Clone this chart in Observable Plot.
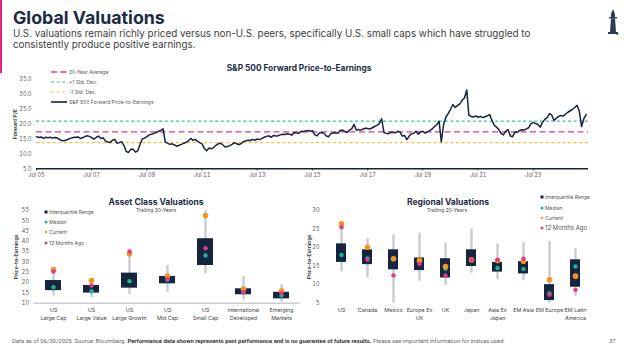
<!DOCTYPE html>
<html><head><meta charset="utf-8">
<script src="https://cdn.jsdelivr.net/npm/d3@7"></script>
<script src="https://cdn.jsdelivr.net/npm/@observablehq/plot@0.6"></script>
<style>
body{margin:0;width:624px;height:350px;position:relative;background:#fff;font-family:Inter,sans-serif;overflow:hidden}
.abs{position:absolute;white-space:nowrap}
#bar{position:absolute;left:0;top:0;width:2px;height:73px;background:#e2237f}
#title{left:13px;top:8.5px;font-size:17.8px;line-height:17.8px;font-weight:700;color:#1c2b45}
#sub{left:13px;top:27.5px;font-size:9.85px;line-height:11px;color:#3d3d3d}
.ctitle{font-weight:700;color:#1c2b45;font-size:8.3px;line-height:8.3px;transform:translateX(-50%)}
.csub{font-size:5px;line-height:5px;color:#444;transform:translateX(-50%)}
.leg{font-size:5px;line-height:6px;color:#555;display:flex;align-items:center}
.leg svg{margin-right:1px}
#foot{left:12px;top:338px;font-family:Roboto,sans-serif;font-size:5.9px;color:#666}
#foot b{color:#333}
#page{left:609px;top:338px;font-family:Roboto,sans-serif;font-size:5.9px;color:#666}
</style></head><body>
<div id="bar"></div>
<div id="title" class="abs">Global Valuations</div>
<div id="sub" class="abs">U.S. valuations remain richly priced versus non-U.S. peers, specifically U.S. small caps which have struggled to<br>consistently produce positive earnings.</div>
<svg class="abs" style="left:606px;top:8px" width="14" height="30" viewBox="0 0 14 30">
 <path d="M7 1 L9 6 L5 6 Z" fill="#2b3a55"/><rect x="5" y="6" width="4" height="3" fill="#2b3a55"/>
 <rect x="3" y="9" width="8" height="1.5" fill="#2b3a55"/><path d="M5 10.5 L9 10.5 L10 24 L4 24 Z" fill="#2b3a55"/>
 <rect x="2" y="24" width="10" height="2" fill="#2b3a55"/><rect x="10" y="26" width="3" height="1" fill="#8a94a6"/>
</svg>

<div id="c1" class="abs" style="left:0;top:60px"></div>
<div id="c2" class="abs" style="left:0;top:190px"></div>
<div id="c3" class="abs" style="left:300px;top:190px"></div>

<div class="abs ctitle" style="left:299px;top:64px">S&amp;P 500 Forward Price-to-Earnings</div>
<div class="abs ctitle" style="left:156px;top:198px;font-size:8.5px">Asset Class Valuations</div>
<div class="abs csub" style="left:156px;top:208px">Trailing 20-Years</div>
<div class="abs ctitle" style="left:448px;top:198px;font-size:8.5px">Regional Valuations</div>
<div class="abs csub" style="left:447px;top:208px">Trailing 20-Years</div>

<div id="leg1"></div>
<div id="leg2"></div>
<div id="leg3"></div>

<div id="foot" class="abs">Data as of 06/30/2025. Source: Bloomberg. <b>Performance data shown represents past performance and is no guarantee of future results.</b> Please see important information for indices used.</div>
<div id="page" class="abs">37</div>

<script>
// ---------- S&P 500 forward P/E (monthly, Jul 2005 – Jun 2025) ----------
const peStart = "2005-07";
const peValues = [
 15.8,15.5,15.7,15.2,15.6,15.4,
 15.6,15.3,15.5,15.4,14.8,14.5,14.4,14.7,15.0,15.3,15.5,15.6,
 15.7,15.2,15.4,15.8,16.1,15.9,15.5,15.0,15.6,16.0,15.2,15.4,
 14.3,14.0,13.8,14.6,14.9,13.6,13.8,14.1,12.8,10.8,10.5,11.6,
 11.6,10.6,11.0,13.2,15.0,15.3,15.8,16.4,16.6,16.9,17.2,17.6,
 17.9,18.4,14.0,13.6,13.2,13.4,13.0,12.6,12.9,13.2,13.6,13.9,
 14.4,15.2,14.6,14.9,14.3,13.8,13.4,11.8,11.1,12.0,11.7,12.2,
 12.9,13.4,13.6,13.0,12.3,12.5,12.8,13.2,13.8,13.4,13.1,13.5,
 14.2,14.4,14.6,14.5,14.9,14.6,15.0,14.8,15.2,15.6,15.9,16.1,
 15.6,16.2,16.0,16.1,16.4,16.6,16.5,16.8,16.6,16.3,17.2,17.0,
 16.9,17.6,17.5,17.7,17.9,17.6,17.8,16.4,16.1,17.0,17.2,16.9,
 16.0,15.8,16.8,17.0,17.1,16.9,17.9,18.0,17.6,17.2,18.0,18.4,
 19.9,18.0,18.2,18.0,18.4,18.6,18.5,18.4,18.8,19.2,19.6,20.2,
 21.8,17.2,16.9,16.8,17.2,17.3,17.1,17.6,17.4,16.0,16.2,14.8,
 16.0,16.8,16.9,17.6,16.6,17.4,17.6,17.0,17.4,17.8,18.4,19.2,
 19.8,21.0,14.0,20.0,22.4,23.6,25.0,26.6,25.6,26.2,26.8,28.0,
 28.8,31.5,23.0,22.6,22.4,22.8,22.3,22.6,22.2,22.5,22.8,23.2,
 21.2,19.6,19.0,18.2,16.9,16.4,17.6,18.2,16.0,15.8,17.4,17.2,
 17.9,18.1,18.0,18.4,18.8,20.2,20.6,20.2,19.9,19.0,20.6,21.6,
 22.2,23.5,23.1,21.2,22.0,22.6,22.9,22.7,23.4,24.0,24.5,25.0,
 25.6,26.3,24.4,19.2,21.9,23.2
];
const peAverage = 17.4, pePlus1 = 21.0, peMinus1 = 13.8;
const peYTicks = [5, 10, 15, 20, 25, 30, 35];
const peXTickLabels = ["Jul 05","Jul 07","Jul 09","Jul 11","Jul 13","Jul 15","Jul 17","Jul 19","Jul 21","Jul 23"];
const peLegend = ["20-Year Average", "+1 Std. Dev.", "-1 Std. Dev.", "S&P 500 Forward Price-to-Earnings"];

// ---------- Asset class valuations ----------
const assetCats = ["US\nLarge Cap","US\nLarge Value","US\nLarge Growth","US\nMid Cap","US\nSmall Cap","International\nDeveloped","Emerging\nMarkets"];
const assetMin     = [13.5, 12.6, 14.2, 15.3, 24.3, 11.6, 10.5];
const assetQ1      = [16.1, 14.9, 17.3, 19.4, 28.3, 14.1, 12.1];
const assetMedian  = [17.8, 15.8, 20.7, 21.4, 33.2, 15.2, 13.7];
const assetQ3      = [21.0, 18.6, 24.6, 23.0, 41.3, 17.0, 15.3];
const assetMax     = [26.8, 21.3, 35.6, 28.3, 55.0, 23.0, 18.9];
const assetCurrent = [26.3, 21.0, 34.0, 23.2, 52.6, 16.9, 16.0];
const assetAgo     = [25.4, 18.6, 35.1, 21.8, 36.7, 15.3, 14.9];
const assetYTicks = [10,15,20,25,30,35,40,45,50,55];

// ---------- Regional valuations ----------
const regionCats = ["US","Canada","Mexico","Europe Ex\nUK","UK","Japan","Asia Ex\nJapan","EM Asia","EM Europe","EM Latin\nAmerica"];
const regionMin     = [13.4, 11.8,  5.0, 10.9,  9.8, 13.1, 11.3, 11.1,  5.0,  6.8];
const regionQ1      = [16.0, 15.4, 14.0, 13.8, 11.8, 14.9, 13.4, 12.9,  5.7,  9.3];
const regionMedian  = [18.0, 17.1, 17.0, 16.2, 14.3, 16.6, 14.5, 14.2,  7.6, 14.9];
const regionQ3      = [21.0, 19.4, 19.4, 17.2, 17.0, 19.4, 16.0, 16.2, 10.0, 16.7];
const regionMax     = [26.6, 22.4, 23.5, 23.9, 21.2, 25.0, 21.0, 21.4, 21.7, 19.7];
const regionCurrent = [26.4, 20.1, 17.0, 16.5, 14.9, 16.7, 16.5, 16.3, 11.3, 12.3];
const regionAgo     = [25.5, 16.7, 12.5, 15.6, 12.5, 16.7, 16.7, 17.0,  7.3,  8.6];
const regionYTicks = [5,10,15,20,25,30];

const boxLegend = ["Interquartile Range","Median","Current","12 Months Ago"];

// ---------- colours ----------
const navy = "#15253f", pink = "#e2388b", teal = "#22b595", green = "#35c29e", yellow = "#f8c23a", orange = "#f7941d", grey = "#c8cdd4";

// ---------- chart 1 ----------
const startDate = d3.utcParse("%Y-%m")(peStart);
const peData = peValues.map((v, i) => ({date: d3.utcMonth.offset(startDate, i), pe: v}));
const parseTick = d3.utcParse("%b %y");
const peXTicks = peXTickLabels.map(parseTick);

const c1 = Plot.plot({
  width: 624, height: 120,
  marginLeft: 36, marginRight: 36, marginTop: 19, marginBottom: 11.7,
  x: {type: "utc", domain: [startDate, d3.utcMonth.offset(startDate, 240)]},
  y: {domain: [5, 35]},
  style: {fontFamily: "Inter, sans-serif", background: "transparent", overflow: "visible"},
  marks: [
    Plot.axisY({ticks: peYTicks, tickFormat: d => d.toFixed(1), tickSize: 0, tickPadding: 5, fontSize: 5.5, fill: "#555", label: null}),
    Plot.axisY({ticks: [], label: "Forward P/E", labelAnchor: "center", labelArrow: "none", labelOffset: 23.5, fontSize: 5.2, fontWeight: 600, fill: "#333"}),
    Plot.axisX({ticks: peXTicks, tickFormat: (d, i) => peXTickLabels[i], tickSize: 2, tickPadding: 2.5, fontSize: 5.5, fill: "#555", stroke: navy, label: null}),
    Plot.ruleY([peAverage], {stroke: pink, strokeWidth: 1.3, strokeDasharray: "6,3.5"}),
    Plot.ruleY([pePlus1], {stroke: green, strokeWidth: 1.2, strokeDasharray: "3,2.6"}),
    Plot.ruleY([peMinus1], {stroke: yellow, strokeWidth: 1.2, strokeDasharray: "3,2.6"}),
    Plot.ruleY([5], {stroke: navy, strokeWidth: 1.5}),
    Plot.lineY(peData, {x: "date", y: "pe", stroke: navy, strokeWidth: 1.5})
  ]
});
document.getElementById("c1").append(c1);

// legend 1
const leg1 = document.getElementById("leg1");
const legStyles = [
  {stroke: pink, dash: "6,3.5", w: 1.3},
  {stroke: green, dash: "3,2.6", w: 1.2},
  {stroke: yellow, dash: "3,2.6", w: 1.2},
  {stroke: navy, dash: "none", w: 1.6}
];
const legY1 = [72.3, 82.3, 92, 101.7];
peLegend.forEach((t, i) => {
  const d = document.createElement("div");
  d.className = "abs leg";
  d.style.left = "51px"; d.style.top = (legY1[i] - 3) + "px";
  d.innerHTML = `<svg width="17" height="4"><line x1="0" x2="16" y1="2" y2="2" stroke="${legStyles[i].stroke}" stroke-width="${legStyles[i].w}" stroke-dasharray="${legStyles[i].dash}"/></svg>`;
  const s = document.createElement("span"); s.textContent = t; d.append(s);
  leg1.append(d);
});

// ---------- box charts ----------
function boxChart({cats, min, q1, med, q3, max, cur, ago, yDomain, yTicks, width, mL, mR, pad, showBase, tickPad, labelX}) {
  const data = cats.map((c, i) => ({cat: c, min: min[i], q1: q1[i], med: med[i], q3: q3[i], max: max[i], cur: cur[i], ago: ago[i]}));
  return Plot.plot({
    width, height: 132,
    marginLeft: mL, marginRight: mR, marginTop: 20, marginBottom: 19.3,
    x: {domain: cats, paddingInner: pad, paddingOuter: pad / 2},
    y: {domain: yDomain},
    style: {fontFamily: "Inter, sans-serif", background: "transparent", overflow: "visible"},
    marks: [
      Plot.axisY({ticks: yTicks, tickSize: 0, tickPadding: tickPad, fontSize: 5.5, fill: "#555", label: null}),
      Plot.axisY({ticks: [], label: "Price-to-Earnings", labelAnchor: "center", labelArrow: "none", labelOffset: mL - labelX, fontSize: 5.2, fontWeight: 600, fill: "#333"}),
      Plot.axisX({tickSize: 0, tickPadding: 3.5, fontSize: 5.4, fill: "#444", lineHeight: 1.4, label: null}),
      showBase ? Plot.ruleY([yDomain[0]], {stroke: grey, strokeWidth: 1.5}) : null,
      Plot.ruleX(data, {x: "cat", y1: "min", y2: "max", stroke: grey, strokeWidth: 2.4}),
      Plot.barY(data, {x: "cat", y1: "q1", y2: "q3", fill: navy}),
      Plot.dot(data, {x: "cat", y: "med", fill: teal, r: 2.2}),
      Plot.dot(data, {x: "cat", y: "cur", fill: orange, r: 2.8}),
      Plot.dot(data, {x: "cat", y: "ago", fill: pink, r: 2.2})
    ]
  });
}

document.getElementById("c2").append(boxChart({
  cats: assetCats, min: assetMin, q1: assetQ1, med: assetMedian, q3: assetQ3, max: assetMax, cur: assetCurrent, ago: assetAgo,
  yDomain: [10, 55], yTicks: assetYTicks, width: 310, mL: 33.5, mR: 10.5, pad: 0.59, showBase: true, tickPad: 5, labelX: 14
}));
document.getElementById("c3").append(boxChart({
  cats: regionCats, min: regionMin, q1: regionQ1, med: regionMedian, q3: regionQ3, max: regionMax, cur: regionCurrent, ago: regionAgo,
  yDomain: [5, 30], yTicks: regionYTicks, width: 324, mL: 25, mR: 32.3, pad: 0.625, showBase: false, tickPad: 6, labelX: 6.5
}));

function boxLeg(el, x, ys, fs) {
  const sw = [
    `<rect x="0.5" y="0.5" width="3" height="3" fill="${navy}"/>`,
    `<circle cx="2" cy="2" r="1.5" fill="${teal}"/>`,
    `<circle cx="2" cy="2" r="1.2" fill="${orange}"/>`,
    `<circle cx="2" cy="2" r="1.5" fill="${pink}"/>`
  ];
  boxLegend.forEach((t, i) => {
    const d = document.createElement("div");
    d.className = "abs leg";
    d.style.left = x + "px"; d.style.top = (ys[i] - 3) + "px";
    d.style.fontSize = (i === 3 ? fs[1] : fs[0]) + "px";
    d.innerHTML = `<svg width="4" height="4">${sw[i]}</svg>`;
    const s = document.createElement("span"); s.textContent = t; d.append(s);
    el.append(d);
  });
}
boxLeg(document.getElementById("leg2"), 44, [211.7, 222, 232.3, 242.7], [5, 5]);
boxLeg(document.getElementById("leg3"), 540, [196.7, 207.7, 217.7, 227.7], [5, 6]);
</script>
</body></html>
